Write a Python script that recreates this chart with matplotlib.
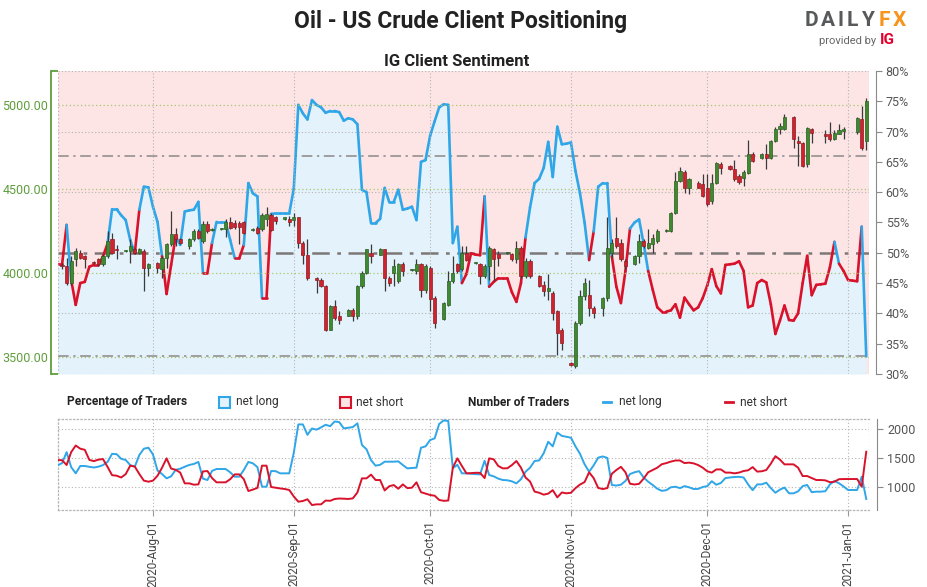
import numpy as np
import pandas as pd
import matplotlib
matplotlib.use('Agg')
import matplotlib.pyplot as plt
import matplotlib.dates as mdates
from matplotlib.collections import LineCollection
from matplotlib.ticker import FixedLocator, FormatStrFormatter, FuncFormatter
from matplotlib.patches import Rectangle
from matplotlib.lines import Line2D
from matplotlib import font_manager

installed = {f.name for f in font_manager.fontManager.ttflist}
NARROW = 'Liberation Sans Narrow' if 'Liberation Sans Narrow' in installed else 'Roboto'
plt.rcParams['font.family'] = ['Roboto', 'DejaVu Sans']

# --- daily sentiment data, 2020-07-11 .. 2021-01-05 ---
day_dates = pd.date_range('2020-07-11', '2021-01-05', freq='D')

pct_long = [
    # Jul 11-31
    48.1, 48.1, 54.6, 45.5, 41.4, 45.0, 45.2, 47.7, 48.0, 48.0, 49.4, 51.5, 57.2, 57.2, 56.2, 55.4, 52.1, 49.9, 57.1, 60.9, 60.8,
    # Aug
    57.6, 55.1, 49.4, 43.2, 48.0, 52.7, 51.3, 56.8, 57.0, 57.1, 58.4, 46.7, 46.7, 51.6, 55.1, 55.1, 55.1, 52.1, 49.1, 49.1,
    51.3, 61.5, 59.8, 59.3, 42.5, 42.5, 56.4, 56.5, 56.5, 56.5, 56.5,
    # Sep
    60.6, 74.4, 73.0, 72.0, 75.2, 74.4, 74.0, 73.1, 73.4, 73.4, 73.2, 71.8, 72.2, 72.0, 71.2, 60.4, 60.0, 54.9, 54.9, 55.6,
    60.7, 58.4, 58.4, 60.4, 57.1, 57.3, 57.6, 55.4, 65.0, 65.3,
    # Oct
    69.3, 71.7, 74.0, 74.5, 74.4, 51.6, 54.3, 45.0, 46.5, 49.9, 49.7, 49.6, 59.3, 44.4, 45.2, 45.8, 45.8, 45.8, 43.5, 41.9,
    45.0, 52.5, 57.5, 61.5, 62.2, 64.0, 68.3, 62.5, 70.8, 67.9, 68.0,
    # Nov
    68.2, 63.5, 59.8, 55.0, 48.8, 53.5, 60.9, 61.5, 61.5, 49.4, 44.4, 41.7, 47.0, 54.0, 55.0, 55.5, 51.5, 47.0, 43.9, 41.0,
    40.3, 40.3, 40.5, 41.5, 39.3, 42.6, 41.5, 40.5, 41.0, 42.5,
    # Dec
    44.6, 47.3, 44.5, 43.3, 48.0, 48.1, 48.2, 48.6, 47.0, 41.0, 41.3, 45.0, 45.5, 45.1, 41.5, 36.6, 38.8, 41.3, 38.9, 38.8,
    40.0, 45.0, 49.5, 43.0, 44.7, 44.8, 44.9, 47.6, 51.8, 48.2, 47.0,
    # Jan
    45.5, 45.4, 45.3, 54.3, 32.9,
]

traders_long = [
    1370, 1410, 1600, 1340, 1232, 1360, 1360, 1345, 1333, 1348, 1375, 1430, 1570, 1565, 1485, 1463, 1375, 1347, 1550, 1660, 1677,
    1560, 1280, 1220, 1145, 1180, 1293, 1312, 1347, 1378, 1395, 1430, 1140, 1116, 1275, 1307, 1307, 1307, 1250, 1174, 1174,
    1290, 1430, 1405, 1340, 1000, 1000, 1272, 1270, 1232, 1232, 1232,
    1590, 2081, 2081, 1900, 2010, 1990, 2030, 2075, 2050, 2132, 2120, 2012, 2023, 2035, 2100, 1723, 1650, 1460, 1365, 1380,
    1434, 1434, 1434, 1440, 1376, 1318, 1325, 1330, 1677, 1700,
    1810, 1839, 2090, 2150, 2140, 1320, 1380, 1232, 1232, 1225, 1218, 1214, 1450, 1203, 1180, 1140, 1116, 1112, 1093, 1058,
    1130, 1260, 1330, 1446, 1456, 1580, 1780, 1700, 1940, 1882, 1867,
    1850, 1700, 1570, 1390, 1260, 1370, 1505, 1525, 1500, 1030, 1020, 1035, 1100, 1220, 1250, 1270, 1160, 1087, 1029, 965,
    928, 940, 990, 1000, 975, 1010, 990, 960, 962, 995,
    1010, 1095, 1035, 1065, 1150, 1160, 1168, 1172, 1160, 1040, 940, 1040, 1041, 1070, 975, 895, 950, 985, 885, 885,
    920, 1010, 1030, 905, 914, 914, 922, 1040, 1100, 1060, 1005,
    943, 943, 943, 1174, 787,
]

traders_short = [
    1463, 1460, 1376, 1600, 1715, 1660, 1640, 1465, 1444, 1470, 1480, 1345, 1200, 1191, 1160, 1218, 1365, 1350, 1220, 1105, 1087,
    1105, 1190, 1330, 1492, 1315, 1293, 1245, 1058, 1058, 1035, 1040, 1265, 1272, 1150, 1076, 1076, 1076, 1130, 1214, 1214,
    1130, 925, 950, 980, 1365, 1365, 995, 982, 970, 960, 943,
    830, 740, 752, 782, 682, 694, 694, 760, 755, 787, 795, 792, 787, 798, 900, 1145, 1145, 1210, 1116, 1116,
    935, 1008, 1029, 965, 1040, 975, 983, 1076, 905, 880,
    856, 844, 770, 755, 760, 1330, 1492, 1360, 1232, 1235, 1242, 1240, 1150, 1492, 1475, 1360, 1318, 1320, 1375, 1446,
    1330, 1160, 1090, 915, 895, 862, 880, 940, 815, 900, 885,
    895, 975, 1038, 1080, 1250, 1150, 978, 960, 975, 1225, 1290, 1345, 1250, 1052, 1038, 1050, 1140, 1250, 1290, 1330,
    1390, 1410, 1436, 1455, 1455, 1410, 1418, 1405, 1376, 1330,
    1268, 1245, 1300, 1300, 1245, 1245, 1232, 1245, 1272, 1285, 1340, 1262, 1268, 1290, 1400, 1530, 1470, 1388, 1388, 1388,
    1330, 1185, 1185, 1150, 1116, 1116, 1110, 1078, 1087, 1130, 1133,
    1133, 1133, 1133, 1000, 1607,
]

# --- daily price candles (no Saturdays, no Dec 25 / Jan 1) ---
all_days = pd.date_range('2020-07-12', '2021-01-05', freq='D')
candle_dates = all_days[(all_days.dayofweek != 5) & ~all_days.isin(pd.to_datetime(['2020-12-25', '2021-01-01']))]

opens = [
    4045, 4040, 3940, 4080, 4120, 4100,  4065, 4080, 4050, 4100, 4200, 4140,  4130, 4130, 4140, 4120, 4130, 4030,
    4060, 4020, 4090, 4170, 4230, 4200,  4160, 4200, 4250, 4190, 4290, 4255,  4260, 4260, 4300, 4295, 4295, 4300,
    4255, 4270, 4260, 4320, 4347, 4330,  4320, 4320, 4315, 4330, 4178, 4109,  3970, 3960, 3920, 3662, 3801, 3740,
    3742, 3781, 3742, 3920, 4000, 4120,  4109, 4139, 3970, 4000, 3950, 4055,  4015, 4010, 4050, 3900, 4030, 3850,
    3722, 3811, 3950, 4050, 4020, 4119,  4060, 4050, 3980, 4040, 4140, 4110,  4120, 4110, 4080, 4150, 3980, 4070,
    3980, 3930, 3890, 3880, 3770, 3660,  3464, 3444, 3700, 3860, 3870, 3790,  3790, 3850, 4120, 4209, 4180, 4070,
    4050, 4100, 4190, 4150, 4170, 4190,  4250, 4249, 4358, 4547, 4600, 4507,  4537, 4527, 4507, 4428, 4537, 4646,
    4636, 4616, 4577, 4567, 4597, 4706,  4685, 4710, 4685, 4785, 4855, 4855,  4928, 4785, 4775, 4646, 4855,
    4829, 4825, 4795, 4830, 4845,  4840, 4914, 4785,
]
highs = [
    4060, 4090, 4100, 4145, 4135, 4105,  4070, 4090, 4110, 4250, 4240, 4165,  4135, 4200, 4150, 4150, 4140, 4060,
    4065, 4100, 4180, 4370, 4270, 4210,  4210, 4260, 4260, 4310, 4310, 4270,  4265, 4320, 4330, 4315, 4310, 4310,
    4265, 4280, 4355, 4390, 4357, 4340,  4335, 4340, 4355, 4330, 4190, 4200,  3975, 3970, 3925, 3810, 3840, 3771,
    3785, 3790, 3925, 4010, 4143, 4170,  4145, 4143, 3980, 4080, 4060, 4065,  4020, 4080, 4060, 4050, 4040, 3860,
    3825, 4010, 4099, 4060, 4162, 4162,  4065, 4060, 4050, 4160, 4150, 4130,  4125, 4120, 4190, 4160, 4090, 4080,
    3985, 3950, 3990, 3890, 3780, 3670,  3470, 3710, 3900, 3970, 3960, 3800,  3855, 4330, 4200, 4330, 4200, 4080,
    4105, 4230, 4200, 4260, 4230, 4260,  4262, 4365, 4600, 4630, 4610, 4567,  4545, 4590, 4590, 4590, 4660, 4660,
    4640, 4670, 4590, 4610, 4790, 4720,  4715, 4770, 4790, 4870, 4895, 4945,  4935, 4815, 4780, 4870, 4865,
    4850, 4900, 4850, 4885, 4870,  4930, 4994, 5040,
]
lows = [
    4020, 3930, 3930, 4040, 4080, 4030,  4055, 4040, 4040, 4090, 4110, 4080,  4125, 4060, 4110, 4110, 3890, 3980,
    4000, 3970, 4030, 4160, 4160, 4170,  4140, 4190, 4200, 4180, 4240, 4250,  4255, 4215, 4260, 4260, 4170, 4230,
    4250, 4230, 4250, 4280, 4248, 4290,  4315, 4280, 4280, 4150, 4050, 3960,  3880, 3915, 3652, 3660, 3720, 3692,
    3740, 3712, 3722, 3910, 3990, 4059,  4105, 3890, 3920, 3920, 3940, 3980,  4010, 3990, 3857, 3880, 3772, 3672,
    3720, 3800, 3940, 4000, 4010, 4070,  4055, 3935, 3970, 3960, 3950, 4040,  4115, 4070, 4060, 3970, 3970, 3970,
    3915, 3860, 3840, 3720, 3510, 3540,  3444, 3434, 3690, 3840, 3740, 3730,  3740, 3830, 4090, 4150, 4070, 4020,
    4045, 4060, 4150, 4140, 4120, 4180,  4245, 4245, 4350, 4540, 4477, 4467,  4505, 4450, 4400, 4408, 4530, 4590,
    4610, 4550, 4527, 4520, 4590, 4660,  4680, 4620, 4680, 4780, 4825, 4850,  4745, 4636, 4630, 4630, 4775,
    4775, 4785, 4790, 4825, 4795,  4830, 4730, 4730,
]
closes = [
    4040, 3940, 4070, 4130, 4090, 4080,  4060, 4050, 4100, 4190, 4120, 4135,  4130, 4160, 4120, 4140, 4030, 4050,
    4030, 4090, 4170, 4230, 4200, 4180,  4200, 4250, 4210, 4290, 4250, 4260,  4262, 4300, 4270, 4275, 4275, 4240,
    4260, 4240, 4345, 4350, 4258, 4310,  4330, 4300, 4330, 4178, 4109, 3970,  3960, 3920, 3662, 3801, 3732, 3720,
    3781, 3742, 3920, 4000, 4139, 4100,  4139, 3970, 3940, 4040, 4055, 4010,  4015, 4050, 3900, 4040, 3841, 3702,
    3821, 3950, 3999, 4010, 4119, 4079,  4060, 3980, 4040, 4150, 4080, 4090,  4120, 4080, 4150, 3980, 4070, 3980,
    3920, 3890, 3910, 3760, 3640, 3580,  3450, 3700, 3860, 3940, 3790, 3760,  3850, 4150, 4180, 4160, 4080, 4040,
    4100, 4190, 4160, 4180, 4210, 4250,  4258, 4358, 4547, 4606, 4507, 4557,  4507, 4457, 4408, 4537, 4656, 4622,
    4616, 4557, 4543, 4602, 4706, 4666,  4710, 4685, 4785, 4855, 4875, 4928,  4795, 4775, 4636, 4865, 4835,
    4815, 4795, 4835, 4850, 4860,  4925, 4745, 5023,
]

price_ticks = [3500, 4000, 4500, 5000]
pct_ticks = [30, 35, 40, 45, 50, 55, 60, 65, 70, 75, 80]
count_ticks = [1000, 1500, 2000]

# --- colours ---
PINK = '#fde4e5'
LBLUE = '#e4f2fb'
BLUE = '#2ea6e8'
RED = '#d9122b'
GREEN_AX = '#5e9e3c'
GRID_GREEN = '#a9c56e'
GRID_GRAY = '#b4b4b4'
DASH = '#8c8888'
TXT = '#444444'

fig = plt.figure(figsize=(9.28, 5.87), dpi=100)
ax = fig.add_axes([0.0625, 0.3629, 0.8739, 0.5162])
ax_pct = ax.twinx()
ax.set_zorder(3)
ax_pct.set_zorder(2)
ax.patch.set_visible(False)
ax_pct.patch.set_visible(True)
ax_pct.patch.set_facecolor(PINK)

x0 = mdates.date2num(pd.Timestamp('2020-07-11')) + 0.1
x1 = mdates.date2num(pd.Timestamp('2021-01-05')) + 0.6

# sentiment fill and line (percentage axis)
xnum = mdates.date2num(day_dates)
pct = np.array(pct_long)
ax_pct.fill_between(xnum, 30, pct, color=LBLUE, lw=0, zorder=1)
pts = np.column_stack([xnum, pct])
segs = np.stack([pts[:-1], pts[1:]], axis=1)
seg_cols = [BLUE if v >= 50 else RED for v in pct[:-1]]
ax_pct.add_collection(LineCollection(segs, colors=seg_cols, linewidths=1.9,
                                     capstyle='round', joinstyle='round', zorder=3))
ax_pct.hlines([30, 40, 60, 70, 80], x0, x1, colors=GRID_GRAY, linestyles=(0, (1, 2)), lw=0.8, zorder=2)
ax_pct.hlines([33, 66], x0, x1, colors=DASH, linestyles=(0, (7, 3, 1.5, 3)), lw=1.1, zorder=2)
ax_pct.hlines([50], x0, x1, colors='#7d7878', linestyles=(0, (7, 3, 1.5, 3)), lw=1.8, zorder=2)
ax_pct.set_ylim(30, 80)
ax_pct.yaxis.set_major_locator(FixedLocator(pct_ticks))
ax_pct.yaxis.set_major_formatter(FuncFormatter(lambda v, p: f'{v:.0f}%'))

# candles (price axis)
cnum = mdates.date2num(candle_dates)
o = np.array(opens); h = np.array(highs); l = np.array(lows); c = np.array(closes)
up = c >= o
body_col = np.where(up, '#3f8a31', '#d1232f')
edge_col = np.where(up, '#2b5f22', '#8e1c22')
ax.vlines(cnum, l, h, color='#3a3a3a', lw=0.9, zorder=3)
body_h = np.maximum(np.abs(c - o), 6)
ax.bar(cnum, body_h, bottom=np.minimum(o, c), width=0.7, color=body_col,
       edgecolor=edge_col, linewidth=0.5, zorder=4)
ax.set_ylim(3397, 5203)
ax.yaxis.set_major_locator(FixedLocator(price_ticks))
ax.yaxis.set_major_formatter(FormatStrFormatter('%.2f'))
ax.grid(axis='y', color=GRID_GREEN, linestyle=(0, (1, 2)), lw=0.9)

for a in (ax, ax_pct):
    a.set_xlim(x0, x1)
    a.xaxis.set_major_locator(mdates.MonthLocator(bymonthday=1))
    a.tick_params(axis='x', bottom=False, labelbottom=False)
    for s in ('top', 'bottom'):
        a.spines[s].set_visible(False)
ax.grid(axis='x', color=GRID_GRAY, linestyle=(0, (1, 2)), lw=0.8)
ax.axvline(x0, color=GRID_GRAY, linestyle=(0, (1, 2)), lw=0.9)
ax.axvline(x1, color=GRID_GRAY, linestyle=(0, (1, 2)), lw=0.9)

ax.spines['right'].set_visible(False)
ax.spines['left'].set_color(GREEN_AX)
ax.spines['left'].set_linewidth(1.3)
ax.spines['left'].set_position(('outward', 5))
ax.tick_params(axis='y', colors=GREEN_AX, labelcolor=GREEN_AX, length=0, pad=2, labelsize=9)
ax.set_yticks([3397, 5203], minor=True)
ax.tick_params(axis='y', which='minor', direction='in', length=5, width=1.3, color=GREEN_AX)

ax_pct.spines['left'].set_visible(False)
ax_pct.spines['right'].set_color('#8a8a8a')
ax_pct.spines['right'].set_position(('outward', 5))
ax_pct.tick_params(axis='y', colors='#8a8a8a', labelcolor='#555555', length=4, pad=3, labelsize=9)

# --- number of traders panel ---
axb = fig.add_axes([0.0625, 0.1312, 0.8739, 0.155])
axb.plot(day_dates, traders_long, color=BLUE, lw=1.4, zorder=3)
axb.plot(day_dates, traders_short, color=RED, lw=1.4, zorder=3)
axb.set_xlim(x0, x1)
axb.set_ylim(596, 2175)
axb.yaxis.tick_right()
axb.yaxis.set_major_locator(FixedLocator(count_ticks))
axb.yaxis.set_major_formatter(FormatStrFormatter('%d'))
axb.xaxis.set_major_locator(mdates.MonthLocator(bymonthday=1))
axb.xaxis.set_major_formatter(mdates.DateFormatter('%Y-%b-%d'))
axb.grid(True, color=GRID_GRAY, linestyle=(0, (1, 2)), lw=0.8)
for s in ('top', 'bottom', 'left'):
    axb.spines[s].set_color(GRID_GRAY)
    axb.spines[s].set_linestyle((0, (1, 2)))
    axb.spines[s].set_linewidth(0.9)
axb.axvline(x1, color=GRID_GRAY, linestyle=(0, (1, 2)), lw=0.9)
axb.spines['right'].set_color('#8a8a8a')
axb.spines['right'].set_position(('outward', 6))
axb.tick_params(axis='y', colors='#8a8a8a', labelcolor='#555555', length=4, pad=3, labelsize=9)
axb.tick_params(axis='x', colors='#999999', labelcolor=TXT, length=4, labelsize=8.5, labelrotation=90)
for lab in axb.get_xticklabels():
    lab.set_va('top')
    lab.set_ha('center')

# --- titles, legend, logo ---
fig.text(0.496, 0.964, 'Oil - US Crude Client Positioning', ha='center', va='center',
         fontsize=16.5, fontweight='bold', family=NARROW, color='#222222')
fig.text(0.4925, 0.896, 'IG Client Sentiment', ha='center', va='center',
         fontsize=12, fontweight='bold', family=NARROW, color='#222222')

LEG = 8.6
ly = 1 - 402 / 587
fig.text(67 / 928, ly, 'Percentage of Traders', ha='left', va='center', fontsize=LEG,
         fontweight='bold', family=NARROW, color='#222222')
fig.patches.append(Rectangle((219 / 928, ly - 5.5 / 587), 11 / 928, 11 / 587, transform=fig.transFigure,
                             facecolor=LBLUE, edgecolor=BLUE, lw=1.5))
fig.text(236 / 928, ly, 'net long', ha='left', va='center', fontsize=LEG, family=NARROW, color='#333333')
fig.patches.append(Rectangle((340 / 928, ly - 5.5 / 587), 11 / 928, 11 / 587, transform=fig.transFigure,
                             facecolor=PINK, edgecolor=RED, lw=1.5))
fig.text(356 / 928, ly, 'net short', ha='left', va='center', fontsize=LEG, family=NARROW, color='#333333')
fig.text(468 / 928, ly, 'Number of Traders', ha='left', va='center', fontsize=LEG,
         fontweight='bold', family=NARROW, color='#222222')
fig.lines.append(Line2D([603 / 928, 611 / 928], [ly, ly], transform=fig.transFigure, color=BLUE, lw=2))
fig.text(619 / 928, ly, 'net long', ha='left', va='center', fontsize=LEG, family=NARROW, color='#333333')
fig.lines.append(Line2D([725 / 928, 733 / 928], [ly, ly], transform=fig.transFigure, color=RED, lw=2))
fig.text(740 / 928, ly, 'net short', ha='left', va='center', fontsize=LEG, family=NARROW, color='#333333')

logo_y = 1 - 20 / 587
for ch, xc, col in zip('DAILYFX', [811, 828, 841, 852, 867, 884, 899],
                       ['#58595b'] * 5 + ['#f7941d'] * 2):
    fig.text(xc / 928, logo_y, ch, ha='center', va='center', fontsize=15, fontweight='bold', color=col)
fig.text(876 / 928, 1 - 41 / 587, 'provided by', ha='right', va='center', fontsize=8, color='#666666')
fig.text(880 / 928, 1 - 40 / 587, 'IG', ha='left', va='center', fontsize=11, fontweight='bold', color='#e4002b')

fig.savefig('out.png', dpi=100)
